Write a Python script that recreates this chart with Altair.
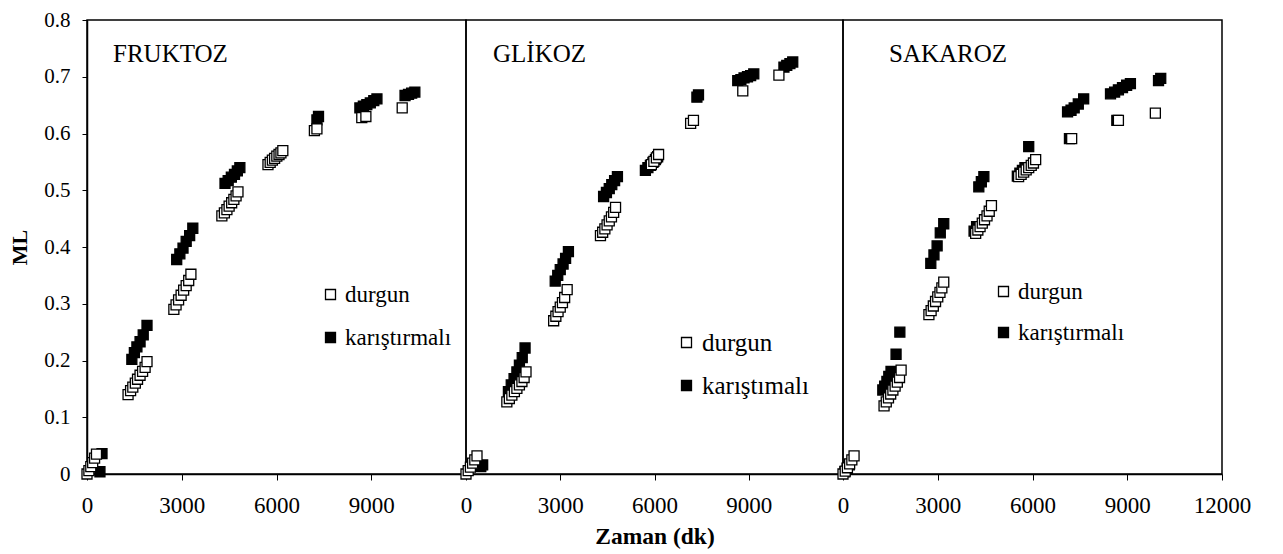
import altair as alt
import pandas as pd

FONT = "Liberation Serif"

X_TICKS_A = [0, 3000, 6000, 9000]
X_TICKS_B = [0, 3000, 6000, 9000, 12000]
Y_TICKS = [0, 0.1, 0.2, 0.3, 0.4, 0.5, 0.6, 0.7, 0.8]

PANEL_NAMES = ["FRUKTOZ", "GLİKOZ", "SAKAROZ"]
SERIES_1 = ["durgun", "karıştırmalı"]
SERIES_2 = ["durgun", "karıştımalı"]
SERIES_3 = ["durgun", "karıştırmalı"]

# FRUKTOZ
FRU_D_T = [0, 60, 120, 180, 240, 300,
           1300, 1380, 1450, 1530, 1600, 1680, 1760, 1840, 1900,
           2750, 2820, 2900, 2980, 3060, 3140, 3220, 3290,
           4270, 4350, 4430, 4500, 4580, 4650, 4720, 4780,
           5730, 5800, 5870, 5940, 6010, 6080, 6140, 6200,
           7200, 7280, 8700, 8830, 9980]
FRU_D_ML = [0.0, 0.006, 0.013, 0.020, 0.028, 0.035,
            0.140, 0.147, 0.153, 0.160, 0.167, 0.174, 0.181, 0.188, 0.198,
            0.290, 0.298, 0.307, 0.315, 0.324, 0.332, 0.341, 0.352,
            0.455, 0.460, 0.466, 0.472, 0.478, 0.484, 0.490, 0.497,
            0.545, 0.549, 0.553, 0.556, 0.560, 0.563, 0.566, 0.570,
            0.605, 0.608, 0.628, 0.630, 0.645]
FRU_K_T = [410, 475,
           1420, 1500, 1580, 1680, 1780, 1900,
           2840, 2940, 3040, 3140, 3250, 3350,
           4370, 4470, 4570, 4670, 4760, 4840,
           7280, 7330,
           8640, 8750, 8860, 8970, 9080, 9180,
           10070, 10180, 10280, 10380]
FRU_K_ML = [0.004, 0.036,
            0.202, 0.214, 0.224, 0.233, 0.245, 0.262,
            0.378, 0.388, 0.398, 0.410, 0.420, 0.433,
            0.512, 0.517, 0.523, 0.528, 0.534, 0.540,
            0.624, 0.630,
            0.645, 0.648, 0.651, 0.654, 0.658, 0.661,
            0.667, 0.669, 0.671, 0.673]

# GLİKOZ
GLI_D_T = [0, 70, 140, 210, 280, 350,
           1300, 1380, 1460, 1540, 1620, 1700, 1780, 1850, 1910,
           2790, 2860, 2930, 3000, 3070, 3140, 3220,
           4280, 4350, 4420, 4490, 4560, 4630, 4700, 4760,
           5900, 5980, 6060, 6130,
           7150, 7240, 8810, 9960]
GLI_D_ML = [0.0, 0.006, 0.012, 0.019, 0.025, 0.032,
            0.127, 0.133, 0.139, 0.145, 0.151, 0.157, 0.163, 0.170, 0.180,
            0.270, 0.278, 0.286, 0.294, 0.302, 0.311, 0.325,
            0.420, 0.426, 0.432, 0.439, 0.446, 0.453, 0.461, 0.470,
            0.545, 0.551, 0.557, 0.563,
            0.618, 0.623, 0.675, 0.703]
GLI_K_T = [470, 530,
           1350, 1440, 1530, 1620, 1700, 1790, 1880,
           2840, 2920, 3000, 3090, 3170, 3260,
           4380, 4470, 4560, 4640, 4730, 4820,
           5710, 5790, 5870, 5950, 6030, 6100,
           7350, 7400,
           8650, 8750, 8850, 8960, 9060, 9160,
           10120, 10210, 10310, 10400]
GLI_K_ML = [0.013, 0.016,
            0.145, 0.157, 0.168, 0.180, 0.192, 0.205, 0.222,
            0.340, 0.350, 0.360, 0.370, 0.380, 0.392,
            0.489, 0.496, 0.503, 0.510, 0.517, 0.524,
            0.535, 0.540, 0.544, 0.549, 0.554, 0.559,
            0.664, 0.668,
            0.693, 0.695, 0.698, 0.700, 0.702, 0.705,
            0.717, 0.720, 0.723, 0.726]

# SAKAROZ
SAK_D_T = [0, 70, 140, 210, 280, 350,
           1300, 1370, 1440, 1510, 1580, 1650, 1720, 1790, 1840,
           2720, 2790, 2860, 2930, 3000, 3070, 3130, 3190,
           4200, 4270, 4340, 4410, 4480, 4560, 4630, 4700,
           5560, 5640, 5720, 5800, 5880, 5960, 6030, 6100,
           7240, 8720, 9890]
SAK_D_ML = [0.0, 0.005, 0.011, 0.018, 0.025, 0.032,
            0.120, 0.127, 0.134, 0.141, 0.148, 0.155, 0.162, 0.170, 0.183,
            0.281, 0.288, 0.296, 0.304, 0.312, 0.320, 0.328, 0.338,
            0.424, 0.430, 0.436, 0.442, 0.448, 0.455, 0.463, 0.473,
            0.524, 0.528, 0.532, 0.536, 0.540, 0.544, 0.548, 0.554,
            0.591, 0.623, 0.636]
SAK_K_T = [60, 130, 200,
           1260, 1320, 1390, 1450, 1520, 1680, 1800,
           2780, 2880, 2980, 3080, 3190,
           4150, 4230, 4300, 4380, 4460,
           5520, 5600, 5680, 5760, 5880,
           7170, 7110, 7220, 7320, 7450, 7620,
           8670, 8470, 8600, 8720, 8850, 8980, 9100,
           9990, 10060]
SAK_K_ML = [0.004, 0.010, 0.016,
            0.148, 0.155, 0.163, 0.172, 0.181, 0.211, 0.250,
            0.371, 0.386, 0.402, 0.425, 0.441,
            0.428, 0.436, 0.506, 0.515, 0.524,
            0.525, 0.530, 0.535, 0.540, 0.577,
            0.591, 0.638, 0.641, 0.645, 0.652, 0.661,
            0.623, 0.670, 0.673, 0.677, 0.681, 0.685, 0.688,
            0.693, 0.697]

H = 454


def make_df(kt, kml, dt, dml, names):
    # filled series first so open squares are drawn on top
    rows = [{"t": a, "ml": b, "s": names[1]} for a, b in zip(kt, kml)]
    rows += [{"t": a, "ml": b, "s": names[0]} for a, b in zip(dt, dml)]
    return pd.DataFrame(rows)


def panel(df, names, name, xticks, show_y, show_xtitle, lx, ly, lfs, rowpad, title_dx, w):
    y_axis = alt.Axis(values=Y_TICKS, format="~g", title="ML", grid=False,
                      tickSize=5, labelPadding=12, labelFontSize=21,
                      titleFontSize=22, titleFontWeight="bold", titlePadding=12,
                      labelFont=FONT, titleFont=FONT) if show_y else None
    x_axis = alt.Axis(values=xticks, format="d", grid=False, tickSize=6,
                      labelPadding=14, labelFontSize=23, labelFont=FONT,
                      title="Zaman (dk)" if show_xtitle else None,
                      titleFontSize=23.5, titleFontWeight="bold", titleFont=FONT,
                      titlePadding=7, labelFlush=False)
    pts = alt.Chart(df).mark_square(size=100, stroke="black", strokeWidth=1.3, opacity=1).encode(
        x=alt.X("t:Q", scale=alt.Scale(domain=[0, 12000], nice=False), axis=x_axis),
        y=alt.Y("ml:Q", scale=alt.Scale(domain=[0, 0.8], nice=False), axis=y_axis),
        fill=alt.Fill("s:N", scale=alt.Scale(domain=names, range=["white", "black"]),
                      legend=alt.Legend(title=None, orient="none", legendX=lx, legendY=ly,
                                        padding=0, labelFontSize=lfs, labelFont=FONT,
                                        symbolType="square", symbolSize=100,
                                        symbolStrokeColor="black", symbolStrokeWidth=1.3,
                                        rowPadding=rowpad, labelOffset=3,
                                        labelColor="black")),
    )
    lbl = alt.Chart(pd.DataFrame({"name": [name]})).mark_text(
        align="left", baseline="alphabetic", font=FONT, fontSize=25, color="black"
    ).encode(text="name:N", x=alt.value(title_dx), y=alt.value(42))
    return alt.layer(pts, lbl).properties(width=w, height=H)


p1 = panel(make_df(FRU_K_T, FRU_K_ML, FRU_D_T, FRU_D_ML, SERIES_1), SERIES_1, PANEL_NAMES[0],
           X_TICKS_A, True, False, 232, 263, 23, 19, 26, 379)
p2 = panel(make_df(GLI_K_T, GLI_K_ML, GLI_D_T, GLI_D_ML, SERIES_2), SERIES_2, PANEL_NAMES[1],
           X_TICKS_A, False, True, 208, 310, 25, 17, 27, 377)
p3 = panel(make_df(SAK_K_T, SAK_K_ML, SAK_D_T, SAK_D_ML, SERIES_3), SERIES_3, PANEL_NAMES[2],
           X_TICKS_B, False, False, 149, 260, 23, 17, 46, 379)

chart = alt.hconcat(p1, p2, p3, spacing=0, bounds="flush").resolve_scale(
    fill="independent", x="independent", y="shared"
).resolve_legend(fill="independent").configure(
    background="white", font=FONT,
    padding={"left": 0, "top": 0, "right": 5, "bottom": 5},
).configure_view(
    stroke="black", strokeWidth=1.5
).configure_axis(
    domainColor="black", domainWidth=1.5, tickColor="black", tickWidth=1,
    labelColor="black", titleColor="black", labelFont=FONT, titleFont=FONT
).configure_legend(
    labelFont=FONT, labelColor="black"
).configure_text(font=FONT)

chart.save("out.html", embed_options={"renderer": "svg", "actions": False})
